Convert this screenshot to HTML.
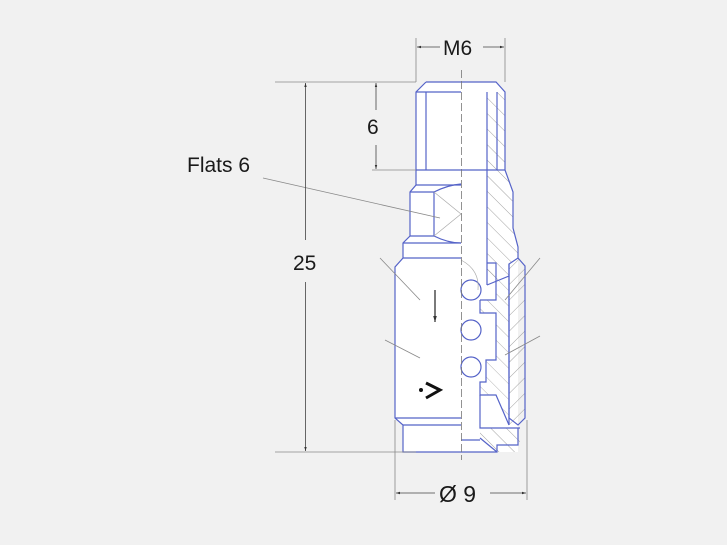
<!DOCTYPE html>
<html><head><meta charset="utf-8"><style>
html,body{margin:0;padding:0;background:#f1f1f1;}
svg{display:block;}
text{font-family:"Liberation Sans",sans-serif;fill:#1a1a1a;}
</style></head><body>
<svg width="727" height="545" viewBox="0 0 727 545" xmlns="http://www.w3.org/2000/svg">
<defs>
<pattern id="h" patternUnits="userSpaceOnUse" width="11" height="11" patternTransform="rotate(-45)">
<line x1="0" y1="0" x2="0" y2="11" stroke="#8a8a8a" stroke-width="0.8"/>
</pattern>
<pattern id="h2" patternUnits="userSpaceOnUse" width="11" height="11" patternTransform="rotate(45)">
<line x1="0" y1="0" x2="0" y2="11" stroke="#8a8a8a" stroke-width="0.8"/>
</pattern>
<marker id="a" markerWidth="6" markerHeight="6" refX="5" refY="3" orient="auto"><path d="M0,1.5 L5,3 L0,4.5z" fill="#333"/></marker>
</defs>
<!-- body fill -->
<path d="M426,82 L496,82 L505,92 L505,170 L513,192 L513,228 L518,247 L518,452 L403,452 L403,425 L395,418 L395,267 L403,258 L403,243 L410,236 L410,192 L416,185 L416,92 Z" fill="#fff"/>
<!-- hatched sections -->
<path d="M487,92 L505,92 L505,170 L513,192 L513,228 L518,247 L518,258 L509,264 L509,276 L487,285Z" fill="url(#h)"/>
<path d="M487,285 L509,276 L509,425 L496,395 L480,395 L480,382 L486,382 L486,360 L496,360 L496,313 L480,313 L480,300 L496,300 L496,263 L487,263Z" fill="url(#h)" opacity="0.8"/>
<path d="M509,264 L518,258 L525,266 L525,418 L518,425 L509,425Z" fill="url(#h2)"/>
<path d="M480,428 L520,428 L520,452 L497,452 L480,438Z" fill="url(#h)"/>
<g fill="none" stroke="#5563c8" stroke-width="1.2">
<path d="M426,82 L496,82 L505,92 L505,170 L513,192 L513,228 L518,247 L518,258"/>
<path d="M426,82 L416,92 L416,185 L410,192 L410,236 L403,243 L403,258 L395,267 L395,418 L403,425 L403,452 L497,452 L497,445 L518,445 L518,428"/>
<line x1="416" y1="170" x2="505" y2="170"/>
<line x1="426" y1="92" x2="426" y2="170"/>
<line x1="416" y1="92" x2="461" y2="92"/>
<line x1="487" y1="92" x2="487" y2="285"/>
<line x1="497" y1="92" x2="497" y2="170"/>
<line x1="416" y1="185" x2="461" y2="185"/>
<line x1="410" y1="192" x2="434" y2="192"/>
<line x1="410" y1="236" x2="434" y2="236"/>
<line x1="434" y1="192" x2="434" y2="236"/>
<path d="M434,192 Q448,185 461,184 M434,236 Q448,243 461,243"/>
<line x1="403" y1="243" x2="461" y2="243"/>
<line x1="403" y1="258" x2="461" y2="258"/>
<line x1="395" y1="418" x2="461" y2="418"/>
<line x1="403" y1="425" x2="461" y2="425"/>
<path d="M509,264 L518,258 L525,266 L525,418 L518,425 L509,418 Z"/>
<line x1="509" y1="264" x2="509" y2="425"/>
<line x1="487" y1="285" x2="509" y2="276"/>
<path d="M487,263 L496,263 L496,300 L480,300 M480,300 L480,313 L496,313 L496,360 L486,360 L486,382 L480,382 L480,395 L496,395 L509,425"/>
<path d="M480,395 L480,428 L520,428"/>
<line x1="480" y1="438" x2="497" y2="452"/>
<line x1="461" y1="440" x2="480" y2="440"/>
<circle cx="471" cy="290" r="10"/>
<circle cx="471" cy="330" r="10"/>
<circle cx="471" cy="367" r="10"/>
</g>
<g stroke="#aaa" stroke-width="0.7" fill="none">
<path d="M434,192 L461,214 L434,236"/>
<path d="M461,260 Q480,270 478,290"/>
</g>
<!-- centerline -->
<line x1="461.5" y1="70" x2="461.5" y2="460" stroke="#777" stroke-width="0.8" stroke-dasharray="8,3"/>
<!-- dimension lines -->
<g stroke="#888" stroke-width="0.8" fill="none">
<line x1="416" y1="38" x2="416" y2="82"/><line x1="505" y1="38" x2="505" y2="82"/>
<line x1="275" y1="82" x2="416" y2="82"/><line x1="372" y1="170" x2="416" y2="170"/>
<line x1="275" y1="452" x2="416" y2="452"/>
<line x1="395" y1="420" x2="395" y2="500"/><line x1="527" y1="420" x2="527" y2="500"/>
<line x1="263" y1="178" x2="440" y2="218"/>
<line x1="380" y1="258" x2="420" y2="300"/><line x1="385" y1="340" x2="420" y2="358"/>
<line x1="540" y1="258" x2="505" y2="300"/><line x1="540" y1="336" x2="505" y2="355"/>
</g>
<g stroke="#444" stroke-width="0.8" fill="none" marker-end="url(#a)">
<line x1="440" y1="47" x2="417" y2="47"/><line x1="483" y1="47" x2="504" y2="47"/>
<line x1="376" y1="110" x2="376" y2="83"/><line x1="376" y1="145" x2="376" y2="169"/>
<line x1="305.5" y1="240" x2="305.5" y2="83"/><line x1="305.5" y1="282" x2="305.5" y2="451"/>
<line x1="435" y1="493" x2="396" y2="493"/><line x1="490" y1="493" x2="526" y2="493"/>
</g>
<line x1="435" y1="290" x2="435" y2="322" stroke="#222" stroke-width="1.2" marker-end="url(#a)"/>
<path d="M426,383 L440,390 L426,398" fill="none" stroke="#111" stroke-width="3"/>
<circle cx="421" cy="390" r="2" fill="#111"/>
<text x="443" y="55" font-size="21">M6</text>
<text x="367" y="134" font-size="21">6</text>
<text x="187" y="172" font-size="21">Flats 6</text>
<text x="293" y="270" font-size="21">25</text>
<text x="439" y="502" font-size="23">Ø 9</text>
</svg>
</body></html>
